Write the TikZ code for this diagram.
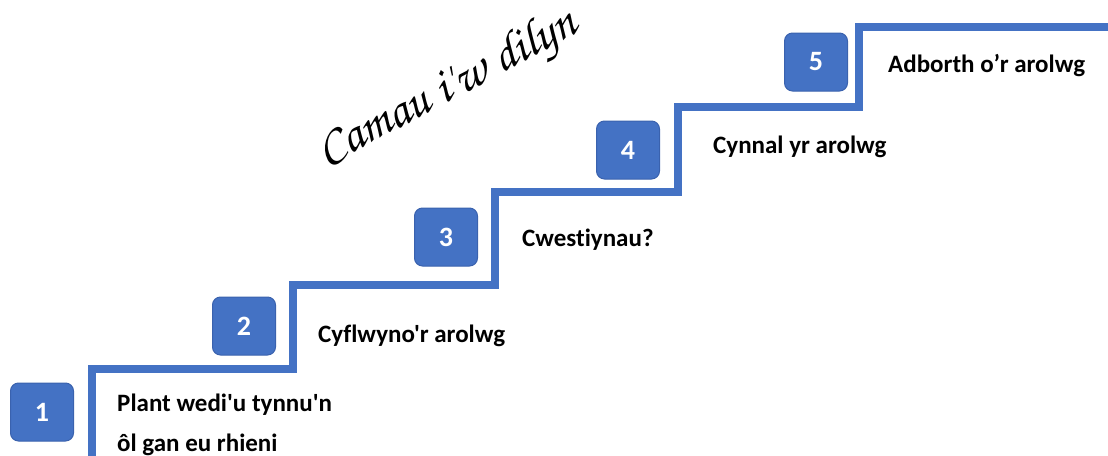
\documentclass[tikz,border=0pt]{standalone}
\usepackage{fontspec}
\setmainfont{Carlito}[Ligatures={TeXOff,NoCommon}]
\newfontfamily\handfont{texgyrechorus-mediumitalic.otf}
\usetikzlibrary{positioning}
\definecolor{stairblue}{HTML}{4472C4}
\definecolor{boxedge}{HTML}{3A62AE}

\begin{document}
\begin{tikzpicture}
[x=1pt,y=-1pt,line join=miter,
stair line/.style={draw=stairblue,line width=8pt},
number box/.style={rounded corners=8pt,fill=stairblue,draw=boxedge,line width=1pt,
  minimum width=63pt,minimum height=58pt,text=white,
  font=\bfseries\fontsize{28}{28}\selectfont},
step text/.style={anchor=base west,inner sep=0pt,align=left,
  font=\bfseries\fontsize{25}{40}\selectfont}]
% Frame
\useasboundingbox (0,0) rectangle (1108,455);
% The staircase
\draw[stair line] (92,462) -- (92,369) -- (293,369) -- (293,285) -- (495,285)
  -- (495,192) -- (678,192) -- (678,107) -- (859,107) -- (859,27) -- (1115,27);
% Number boxes
\foreach \n/\x/\y in {1/42/412, 2/244/326, 3/446/237, 4/628/150, 5/816/62}
  \node[number box] (box\n) at (\x,\y) {\n};
% Step labels
\node[step text] (text1) at (117,451) {Plant wedi'u tynnu'n\\ôl gan eu rhieni};
\node[step text] (text2) at (318,342) {Cyflwyno'r arolwg};
\node[step text] (text3) at (522,246) {Cwestiynau?};
\node[step text] (text4) at (713,153) {Cynnal yr arolwg};
\node[step text] (text5) at (888,72) {Adborth o’r arolwg};
% Title
\node[rotate=28,font=\handfont\fontsize{50}{50}\selectfont] (title) at (448,90)
  {Camau i'w dilyn};
\end{tikzpicture}
\end{document}
